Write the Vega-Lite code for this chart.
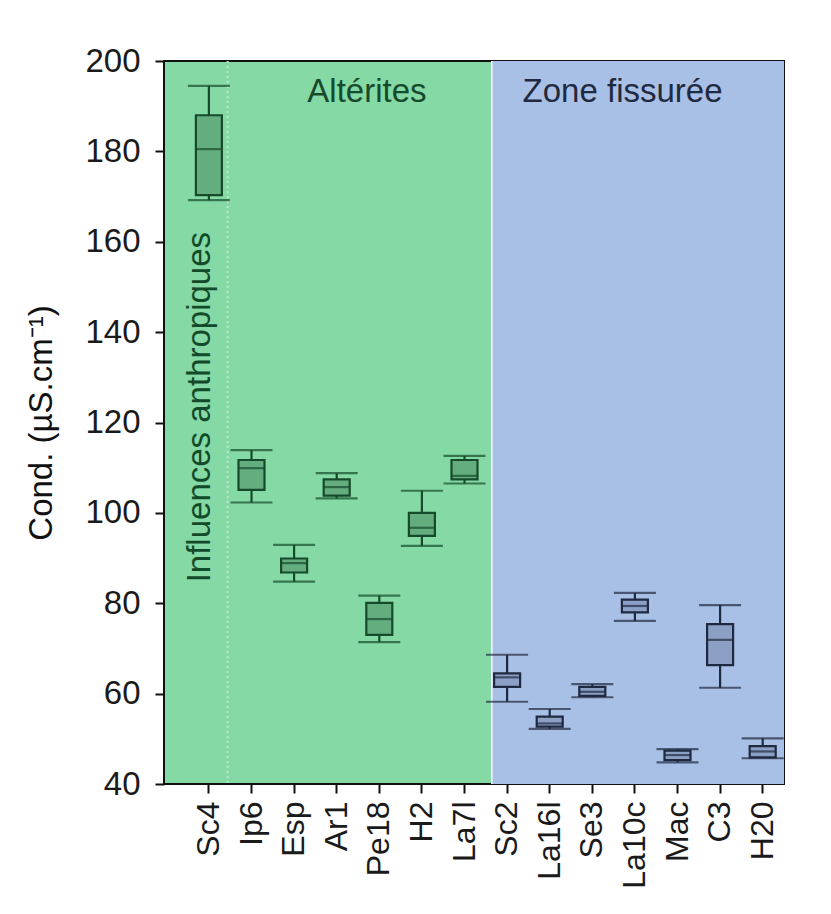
{
  "$schema": "https://vega.github.io/schema/vega-lite/v6.json",
  "width": 620,
  "height": 723,
  "autosize": "none",
  "padding": {"left": 164, "top": 61, "right": 47, "bottom": 130},
  "background": "white",
  "config": {
    "view": {"fill": "#84d9a5", "stroke": "#111111", "strokeWidth": 2},
    "font": "Liberation Sans"
  },
  "datasets": {
    "boxes": [
      {"site": "Sc4", "zone": "Altérites", "min": 169.2, "q1": 170.3, "median": 180.5, "q3": 188.0, "max": 194.5},
      {"site": "Ip6", "zone": "Altérites", "min": 102.3, "q1": 105.1, "median": 109.9, "q3": 111.7, "max": 113.9},
      {"site": "Esp", "zone": "Altérites", "min": 84.8, "q1": 86.8, "median": 88.9, "q3": 89.9, "max": 92.9},
      {"site": "Ar1", "zone": "Altérites", "min": 103.2, "q1": 103.8, "median": 105.7, "q3": 107.4, "max": 108.8},
      {"site": "Pe18", "zone": "Altérites", "min": 71.4, "q1": 73.0, "median": 76.5, "q3": 80.1, "max": 81.7},
      {"site": "H2", "zone": "Altérites", "min": 92.7, "q1": 94.9, "median": 96.7, "q3": 100.0, "max": 104.9},
      {"site": "La7l", "zone": "Altérites", "min": 106.5, "q1": 107.4, "median": 108.2, "q3": 111.7, "max": 112.6},
      {"site": "Sc2", "zone": "Zone fissurée", "min": 58.2, "q1": 61.5, "median": 63.6, "q3": 64.5, "max": 68.6},
      {"site": "La16l", "zone": "Zone fissurée", "min": 52.2, "q1": 52.7, "median": 53.4, "q3": 54.9, "max": 56.6},
      {"site": "Se3", "zone": "Zone fissurée", "min": 59.2, "q1": 59.5, "median": 60.4, "q3": 61.5, "max": 62.1},
      {"site": "La10c", "zone": "Zone fissurée", "min": 76.1, "q1": 78.0, "median": 79.4, "q3": 80.8, "max": 82.3},
      {"site": "Mac", "zone": "Zone fissurée", "min": 44.8, "q1": 45.3, "median": 46.4, "q3": 47.4, "max": 47.7},
      {"site": "C3", "zone": "Zone fissurée", "min": 61.3, "q1": 66.3, "median": 71.9, "q3": 75.4, "max": 79.6},
      {"site": "H20", "zone": "Zone fissurée", "min": 45.7, "q1": 45.9, "median": 47.2, "q3": 48.4, "max": 50.1}
    ],
    "zones": [{"zone": "Zone fissurée", "start": "Sc2", "end": "H20"}],
    "labels": [
      {"text": "Altérites", "site": "Pe18", "value": 193.2, "zone": "Altérites"},
      {"text": "Zone fissurée", "site": "La10c", "value": 193.2, "zone": "Zone fissurée"}
    ],
    "vlabel": [{"text": "Influences anthropiques", "site": "Sc4", "value": 123.4}],
    "split": [{"site": "Sc4"}]
  },
  "layer": [
    {
      "data": {"name": "zones"},
      "mark": {"type": "rect", "fill": "#a9c0e6"},
      "encoding": {
        "x": {
          "field": "start", "type": "nominal", "bandPosition": 0.14,
          "scale": {"type": "band", "domain": ["Sc4", "Ip6", "Esp", "Ar1", "Pe18", "H2", "La7l", "Sc2", "La16l", "Se3", "La10c", "Mac", "C3", "H20"], "paddingInner": 0, "paddingOuter": 0.277, "align": 1},
          "axis": {"title": null, "labelAngle": -90, "labelFontSize": 32, "labelColor": "#1a1a1a", "tickSize": 9, "tickColor": "#111111", "tickWidth": 2, "domain": false, "labelPadding": 8}
        },
        "x2": {"field": "end", "bandPosition": 1}
      }
    },
    {
      "data": {"name": "split"},
      "mark": {"type": "rule", "color": "#bfe3cd", "strokeWidth": 2, "strokeDash": [2, 3]},
      "encoding": {"x": {"field": "site", "type": "nominal", "bandPosition": 0.94}}
    },
    {
      "data": {"name": "zones"},
      "mark": {"type": "rule", "color": "#ffffff", "strokeWidth": 1.5},
      "encoding": {"x": {"field": "start", "type": "nominal", "bandPosition": 0.14}}
    },
    {
      "data": {"name": "boxes"},
      "mark": {"type": "rule", "strokeWidth": 2.2},
      "encoding": {
        "x": {"field": "site", "type": "nominal"},
        "y": {"field": "min", "type": "quantitative", "scale": {"domain": [40, 200], "nice": false},
          "axis": {"values": [40, 60, 80, 100, 120, 140, 160, 180, 200], "title": "Cond. (µS.cm⁻¹)", "titleFontSize": 33, "titleFontWeight": "normal", "titleColor": "#111111", "titlePadding": 26, "labelFontSize": 33, "labelColor": "#1a1a1a", "tickSize": 9, "tickColor": "#111111", "tickWidth": 2, "labelPadding": 15, "grid": false, "domain": false}},
        "y2": {"field": "max"},
        "color": {"field": "zone", "type": "nominal", "scale": {"domain": ["Altérites", "Zone fissurée"], "range": ["#174a2b", "#1f2a40"]}, "legend": null}
      }
    },
    {
      "data": {"name": "boxes"},
      "mark": {"type": "tick", "size": 42, "thickness": 2.2},
      "encoding": {
        "x": {"field": "site", "type": "nominal"},
        "y": {"field": "min", "type": "quantitative"},
        "color": {"field": "zone", "type": "nominal", "legend": null}
      }
    },
    {
      "data": {"name": "boxes"},
      "mark": {"type": "tick", "size": 42, "thickness": 2.2},
      "encoding": {
        "x": {"field": "site", "type": "nominal"},
        "y": {"field": "max", "type": "quantitative"},
        "color": {"field": "zone", "type": "nominal", "legend": null}
      }
    },
    {
      "data": {"name": "boxes"},
      "mark": {"type": "bar", "size": 26, "strokeWidth": 2.2, "opacity": 1},
      "encoding": {
        "x": {"field": "site", "type": "nominal"},
        "y": {"field": "q1", "type": "quantitative"},
        "y2": {"field": "q3"},
        "fill": {"field": "zone", "type": "nominal", "scale": {"domain": ["Altérites", "Zone fissurée"], "range": ["#63ad7f", "#8ca0c6"]}, "legend": null},
        "stroke": {"field": "zone", "type": "nominal", "scale": {"domain": ["Altérites", "Zone fissurée"], "range": ["#174a2b", "#1f2a40"]}, "legend": null}
      }
    },
    {
      "data": {"name": "boxes"},
      "mark": {"type": "tick", "size": 26, "thickness": 2.2},
      "encoding": {
        "x": {"field": "site", "type": "nominal"},
        "y": {"field": "median", "type": "quantitative"},
        "color": {"field": "zone", "type": "nominal", "legend": null}
      }
    },
    {
      "data": {"name": "labels"},
      "mark": {"type": "text", "fontSize": 33, "align": "center", "baseline": "middle"},
      "encoding": {
        "x": {"field": "site", "type": "nominal", "bandPosition": 0.21},
        "y": {"field": "value", "type": "quantitative"},
        "text": {"field": "text"},
        "color": {"field": "zone", "type": "nominal", "legend": null}
      }
    },
    {
      "data": {"name": "vlabel"},
      "mark": {"type": "text", "fontSize": 33, "angle": 270, "align": "center", "baseline": "middle", "color": "#124a2a"},
      "encoding": {
        "x": {"field": "site", "type": "nominal", "bandPosition": 0.29},
        "y": {"field": "value", "type": "quantitative"},
        "text": {"field": "text"}
      }
    }
  ]
}
